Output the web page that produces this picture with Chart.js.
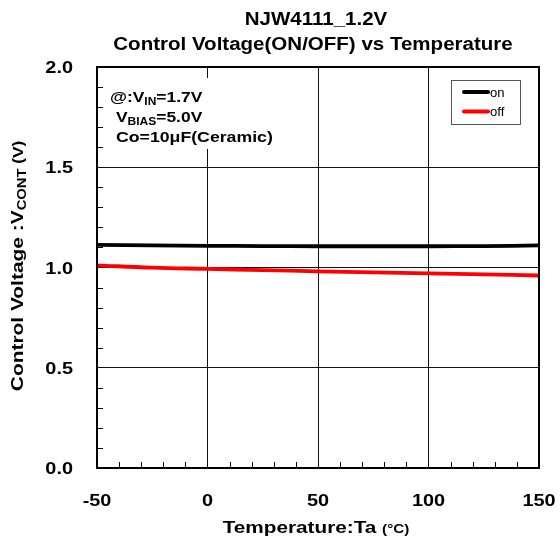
<!DOCTYPE html>
<html><head><meta charset="utf-8">
<script src="https://cdn.jsdelivr.net/npm/chart.js@4"></script>
<style>html,body{margin:0;padding:0;background:#fff}#wrap{width:560px;height:545px}</style>
</head><body><div id="wrap"><canvas id="c" width="560" height="545"></canvas></div>
<script>
const temps = [-50, -25, 0, 25, 50, 75, 100, 125, 150];
const onV  = [1.113, 1.110, 1.108, 1.107, 1.106, 1.106, 1.106, 1.107, 1.110];
const offV = [1.011, 0.999, 0.993, 0.987, 0.981, 0.976, 0.971, 0.966, 0.960];
const xTicks = [-50, 0, 50, 100, 150];
const yTicks = [0.0, 0.5, 1.0, 1.5, 2.0];
const titleLines = ["NJW4111_1.2V", "Control Voltage(ON/OFF) vs Temperature"];
const seriesNames = ["on", "off"];

const FF = '"Liberation Sans", Arial, sans-serif';

function runs(ctx, parts, x, y, sx, align) {
  let w = 0;
  for (const p of parts) { ctx.font = p.f; w += ctx.measureText(p.t).width; }
  ctx.save();
  ctx.translate(x, y);
  ctx.scale(sx, 1);
  let cx = align === 'center' ? -w / 2 : (align === 'right' ? -w : 0);
  ctx.textAlign = 'left';
  ctx.textBaseline = 'alphabetic';
  for (const p of parts) {
    ctx.font = p.f;
    ctx.fillText(p.t, cx, p.dy || 0);
    cx += ctx.measureText(p.t).width;
  }
  ctx.restore();
}

const deco = {
  id: 'deco',
  beforeDatasetsDraw(chart) {
    const ctx = chart.ctx, a = chart.chartArea;
    const xs = chart.scales.x, ys = chart.scales.y;
    ctx.save();
    // minor ticks
    ctx.strokeStyle = '#000'; ctx.lineWidth = 1;
    ctx.beginPath();
    for (let v = -40; v < 150; v += 10) {
      if (v % 50 === 0) continue;
      const px = Math.round(xs.getPixelForValue(v)) + 0.5;
      ctx.moveTo(px, a.bottom); ctx.lineTo(px, a.bottom - 6);
    }
    for (let i = 1; i < 20; i++) {
      if (i % 5 === 0) continue;
      const py = Math.round(ys.getPixelForValue(i / 10)) + 0.5;
      ctx.moveTo(a.left, py); ctx.lineTo(a.left + 6, py);
    }
    ctx.stroke();
    // annotation background
    ctx.fillStyle = '#fff';
    ctx.fillRect(104, 78, 180, 71);
    ctx.fillStyle = '#000';
    const b14 = 'bold 14.5px ' + FF, b10 = 'bold 10px ' + FF;
    runs(ctx, [{t:'@:V', f:b14}, {t:'IN', f:b10, dy:3}, {t:'=1.7V', f:b14}], 110, 102, 1.2, 'left');
    runs(ctx, [{t:'V', f:b14}, {t:'BIAS', f:b10, dy:3}, {t:'=5.0V', f:b14}], 116, 122, 1.2, 'left');
    runs(ctx, [{t:'Co=10\u03bcF(Ceramic)', f:b14}], 116, 142, 1.22, 'left');
    // legend
    ctx.fillStyle = '#fff';
    ctx.fillRect(451, 80, 69, 44);
    ctx.strokeStyle = '#555'; ctx.lineWidth = 1;
    ctx.strokeRect(451.5, 80.5, 69, 44);
    const cols = ['#000', '#ff0000'];
    for (let i = 0; i < 2; i++) {
      const ly = 92 + i * 19.5;
      ctx.strokeStyle = cols[i]; ctx.lineWidth = 4; ctx.lineCap = 'round';
      ctx.beginPath(); ctx.moveTo(464, ly); ctx.lineTo(488, ly); ctx.stroke();
      ctx.fillStyle = '#000';
      runs(ctx, [{t:seriesNames[i], f:'12.5px ' + FF}], 490, ly + 4.5, 1.05, 'left');
    }
    ctx.restore();
  },
  afterDraw(chart) {
    const ctx = chart.ctx, a = chart.chartArea;
    const xs = chart.scales.x, ys = chart.scales.y;
    ctx.save();
    ctx.strokeStyle = '#000'; ctx.lineWidth = 2;
    ctx.strokeRect(a.left, a.top, a.right - a.left, a.bottom - a.top);
    ctx.fillStyle = '#000';
    const b17 = 'bold 17px ' + FF;
    for (const v of yTicks) {
      runs(ctx, [{t:v.toFixed(1), f:b17}], 73, ys.getPixelForValue(v) + 6, 1.17, 'right');
    }
    for (const v of xTicks) {
      runs(ctx, [{t:String(v), f:b17}], xs.getPixelForValue(v), 506, 1.17, 'center');
    }
    // titles
    const b18 = 'bold 18px ' + FF;
    runs(ctx, [{t:titleLines[0], f:b18}], 316, 25, 1.14, 'center');
    runs(ctx, [{t:titleLines[1], f:b18}], 313, 50, 1.14, 'center');
    // x title
    runs(ctx, [{t:'Temperature:Ta ', f:b17}, {t:'(\u00b0C)', f:'bold 12.5px ' + FF}], 316, 533, 1.22, 'center');
    // y title
    ctx.save();
    ctx.translate(23, 266);
    ctx.rotate(-Math.PI / 2);
    runs(ctx, [{t:'Control Voltage :V', f:b17}, {t:'CONT', f:'bold 12px ' + FF, dy:3}, {t:' (V)', f:'bold 14px ' + FF}], 0, 0, 1.23, 'center');
    ctx.restore();
    ctx.restore();
  }
};

new Chart(document.getElementById('c'), {
  type: 'line',
  data: {
    datasets: [
      { label: seriesNames[0], data: temps.map((t, i) => ({x: t, y: onV[i]})), borderColor: '#000', borderWidth: 3.8, pointRadius: 0, tension: 0.4, fill: false },
      { label: seriesNames[1], data: temps.map((t, i) => ({x: t, y: offV[i]})), borderColor: '#ff0000', borderWidth: 3.8, pointRadius: 0, tension: 0.4, fill: false }
    ]
  },
  options: {
    responsive: false,
    animation: false,
    layout: { padding: { left: 0, right: 21, top: 67, bottom: 0 } },
    plugins: { legend: { display: false }, title: { display: false }, tooltip: { enabled: false } },
    scales: {
      x: {
        type: 'linear', min: -50, max: 150,
        ticks: { display: false, stepSize: 50 },
        grid: { color: '#111', lineWidth: 1, drawTicks: false },
        border: { display: false },
        afterFit(s) { s.height = 77; }
      },
      y: {
        min: 0, max: 2,
        ticks: { display: false, stepSize: 0.5 },
        grid: { color: '#111', lineWidth: 1, drawTicks: false },
        border: { display: false },
        afterFit(s) { s.width = 97; }
      }
    }
  },
  plugins: [deco]
});
</script>
</body></html>
